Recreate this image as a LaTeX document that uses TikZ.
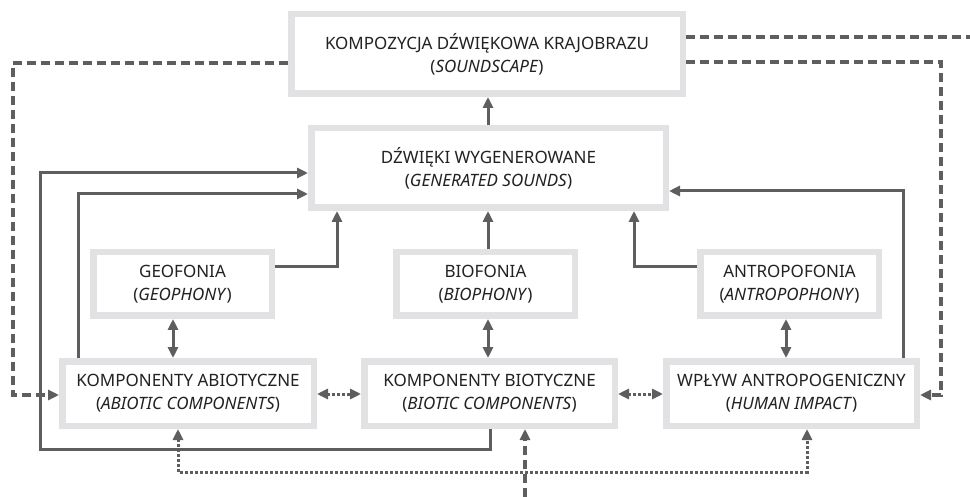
\documentclass[tikz,border=0pt]{standalone}
\usepackage{fontspec}
\setmainfont{Noto Sans}
\usetikzlibrary{arrows.meta}
\definecolor{boxgray}{HTML}{E2E2E4}
\definecolor{arrgray}{HTML}{5E5E5E}
\definecolor{txtgray}{HTML}{222222}
\begin{document}
\begin{tikzpicture}[x=1pt,y=-1pt,
  bx/.style={draw=boxgray,line width=6.5pt,fill=white,align=center,text=txtgray,
    font=\fontsize{17}{23}\selectfont,inner sep=0pt},
  tip/.style={-{Triangle[length=11pt,width=10pt]}},
  tips/.style={{Triangle[length=11pt,width=10pt]}-{Triangle[length=11pt,width=10pt]}},
  sol/.style={draw=arrgray,line width=3pt},
  dsh/.style={draw=arrgray,line width=3.2pt,dash pattern=on 9pt off 5pt},
  dot/.style={draw=arrgray,line width=3pt,dash pattern=on 2.5pt off 2.5pt}]
\useasboundingbox[fill=white] (0,0) rectangle (970,497);
% boxes
\node[bx,minimum width=391.5pt,minimum height=79.5pt] (comp) at (487,54) {KOMPOZYCJA DŹWIĘKOWA KRAJOBRAZU\\(\textit{SOUNDSCAPE})};
\node[bx,minimum width=354.5pt,minimum height=79.5pt] (gen) at (488.5,168) {DŹWIĘKI WYGENEROWANE\\(\textit{GENERATED SOUNDS})};
\node[bx,minimum width=178.5pt,minimum height=63.5pt] (geo) at (182.5,284) {GEOFONIA\\(\textit{GEOPHONY})};
\node[bx,minimum width=178.5pt,minimum height=63.5pt] (bio) at (485.5,284) {BIOFONIA\\(\textit{BIOPHONY})};
\node[bx,minimum width=178.5pt,minimum height=63.5pt] (antro) at (789.5,284) {ANTROPOFONIA\\(\textit{ANTROPOPHONY})};
\node[bx,minimum width=251.5pt,minimum height=64.5pt] (abio) at (188,393.5) {KOMPONENTY ABIOTYCZNE\\(\textit{ABIOTIC COMPONENTS})};
\node[bx,minimum width=250.5pt,minimum height=64.5pt] (biot) at (489.5,393.5) {KOMPONENTY BIOTYCZNE\\(\textit{BIOTIC COMPONENTS})};
\node[bx,minimum width=250.5pt,minimum height=64.5pt] (hum) at (791.5,393.5) {WPŁYW ANTROPOGENICZNY\\(\textit{HUMAN IMPACT})};
\coordinate (edge) at (970,37);
\coordinate (bottom) at (525,497);
% solid arrows
\draw[sol,tip] (gen.north -| 488,0) -- (comp.south -| 488,0);
\draw[sol,tip] (geo.east |- 0,267) -| (gen.south -| 337,0);
\draw[sol,tip] (bio.north -| 488,0) -- (gen.south -| 488,0);
\draw[sol,tip] (antro.west |- 0,267) -| (gen.south -| 634,0);
\draw[sol,tips] (geo.south -| 173,0) -- (abio.north -| 173,0);
\draw[sol,tips] (bio.south -| 488,0) -- (biot.north -| 488,0);
\draw[sol,tips] (antro.south -| 786,0) -- (hum.north -| 786,0);
\draw[sol,tip] (biot.south -| 490,0) -- (490,449) -- (40,449) -- (40,173) -- (gen.west |- 0,173);
\draw[sol,tip] (abio.north -| 78,0) |- (gen.west |- 0,194);
\draw[sol,tip] (hum.north -| 903,0) |- (gen.east |- 0,191);
% dotted
\draw[dot,tips] (abio.east |- 0,394) -- (biot.west |- 0,394);
\draw[dot,tips] (biot.east |- 0,394) -- (hum.west |- 0,394);
\draw[dot,tips] (abio.south -| 178,0) -- (178,472) -- (807,472) -- (hum.south -| 807,0);
% dashed
\draw[dsh,tip] (comp.west |- 0,63) -- (13,63) -- (13,395) -- (abio.west |- 0,395);
\draw[dsh] (comp.east |- 0,37) -- (edge);
\draw[dsh,tip] (comp.east |- 0,62) -- (941,62) -- (941,395) -- (hum.east |- 0,395);
\draw[dsh,tip] (bottom) -- (biot.south -| 525,0);
\end{tikzpicture}
\end{document}
